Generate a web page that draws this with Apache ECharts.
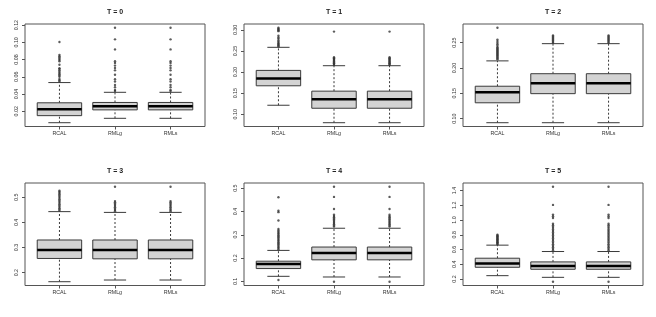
<!DOCTYPE html>
<html>
<head>
<meta charset="utf-8">
<script src="https://cdn.jsdelivr.net/npm/echarts@6/dist/echarts.min.js"></script>
<style>
html,body{margin:0;padding:0;background:#fff;}
#chart{width:656px;height:317px;}
</style>
</head>
<body>
<div id="chart"></div>
<script>
// ---- data ----
const categories = ['RCAL', 'RMLg', 'RMLs'];
const panelTitles = ['T = 0', 'T = 1', 'T = 2', 'T = 3', 'T = 4', 'T = 5'];

// box stats per method: [lower whisker, Q1, median, Q3, upper whisker]
const t0Box = [[0.0067, 0.0149, 0.0224, 0.0298, 0.0533], [0.0118, 0.0216, 0.0259, 0.0302, 0.0420], [0.0118, 0.0216, 0.0259, 0.0302, 0.0420]];
const t1Box = [[0.1214, 0.1675, 0.1850, 0.2040, 0.2587], [0.0800, 0.1143, 0.1357, 0.1548, 0.2151], [0.0800, 0.1143, 0.1357, 0.1548, 0.2151]];
const t2Box = [[0.0920, 0.1313, 0.1520, 0.1640, 0.2140], [0.0920, 0.1493, 0.1700, 0.1887, 0.2480], [0.0920, 0.1493, 0.1700, 0.1887, 0.2480]];
const t3Box = [[0.1638, 0.2564, 0.2900, 0.3300, 0.4430], [0.1705, 0.2550, 0.2900, 0.3300, 0.4400], [0.1705, 0.2550, 0.2900, 0.3300, 0.4400]];
const t4Box = [[0.1217, 0.1550, 0.1750, 0.1866, 0.2329], [0.1188, 0.1924, 0.2213, 0.2473, 0.3280], [0.1188, 0.1924, 0.2213, 0.2473, 0.3280]];
const t5Box = [[0.2455, 0.3590, 0.4090, 0.4820, 0.6590], [0.2227, 0.3320, 0.3770, 0.4320, 0.5727], [0.2227, 0.3320, 0.3770, 0.4320, 0.5727]];

// outliers per method
const t0Out = [
  [0.0545, 0.056, 0.0575, 0.060, 0.0615, 0.063, 0.0645, 0.066, 0.0675, 0.069, 0.070, 0.074, 0.078, 0.0795, 0.081, 0.0825, 0.084, 0.0855, 0.1004],
  [0.0435, 0.0447, 0.0478, 0.0506, 0.0545, 0.0573, 0.0624, 0.0675, 0.0702, 0.073, 0.0761, 0.078, 0.0918, 0.1035, 0.1169],
  [0.0435, 0.0447, 0.0478, 0.0506, 0.0545, 0.0573, 0.0624, 0.0675, 0.0702, 0.073, 0.0761, 0.078, 0.0918, 0.1035, 0.1169]
];
const t1Out = [
  [0.261, 0.263, 0.265, 0.267, 0.269, 0.272, 0.275, 0.279, 0.282, 0.286, 0.297, 0.299, 0.301, 0.303, 0.305],
  [0.217, 0.219, 0.221, 0.223, 0.225, 0.227, 0.229, 0.231, 0.233, 0.235, 0.296],
  [0.217, 0.219, 0.221, 0.223, 0.225, 0.227, 0.229, 0.231, 0.233, 0.235, 0.296]
];
const t2Out = [
  [0.217, 0.219, 0.221, 0.223, 0.225, 0.227, 0.229, 0.231, 0.233, 0.235, 0.237, 0.239, 0.241, 0.244, 0.247, 0.250, 0.253, 0.256, 0.2793],
  [0.250, 0.252, 0.254, 0.256, 0.258, 0.260, 0.262, 0.264],
  [0.250, 0.252, 0.254, 0.256, 0.258, 0.260, 0.262, 0.264]
];
const t3Out = [
  [0.447, 0.452, 0.457, 0.462, 0.467, 0.472, 0.477, 0.482, 0.487, 0.492, 0.497, 0.502, 0.507, 0.512, 0.517, 0.522, 0.526],
  [0.445, 0.450, 0.455, 0.460, 0.465, 0.470, 0.475, 0.480, 0.485, 0.542],
  [0.445, 0.450, 0.455, 0.460, 0.465, 0.470, 0.475, 0.480, 0.485, 0.542]
];
const t4Out = [
  [0.106, 0.238, 0.243, 0.248, 0.253, 0.258, 0.263, 0.268, 0.273, 0.278, 0.283, 0.288, 0.293, 0.298, 0.303, 0.308, 0.313, 0.318, 0.325, 0.361, 0.397, 0.403, 0.461],
  [0.0986, 0.335, 0.340, 0.345, 0.350, 0.355, 0.360, 0.365, 0.370, 0.375, 0.380, 0.386, 0.4105, 0.4625, 0.5058],
  [0.0986, 0.335, 0.340, 0.345, 0.350, 0.355, 0.360, 0.365, 0.370, 0.375, 0.380, 0.386, 0.4105, 0.4625, 0.5058]
];
const t5Out = [
  [0.67, 0.68, 0.69, 0.70, 0.71, 0.72, 0.73, 0.74, 0.75, 0.76, 0.77, 0.78, 0.79, 0.80],
  [0.1636, 0.59, 0.61, 0.63, 0.65, 0.67, 0.69, 0.71, 0.73, 0.75, 0.77, 0.79, 0.81, 0.83, 0.85, 0.87, 0.89, 0.91, 0.93, 0.95, 1.027, 1.05, 1.073, 1.2045, 1.45],
  [0.1636, 0.59, 0.61, 0.63, 0.65, 0.67, 0.69, 0.71, 0.73, 0.75, 0.77, 0.79, 0.81, 0.83, 0.85, 0.87, 0.89, 0.91, 0.93, 0.95, 1.027, 1.05, 1.073, 1.2045, 1.45]
];

// y tick labels per panel
const t0Ticks = ['0.02', '0.04', '0.06', '0.08', '0.10', '0.12'];
const t1Ticks = ['0.10', '0.15', '0.20', '0.25', '0.30'];
const t2Ticks = ['0.10', '0.15', '0.20', '0.25'];
const t3Ticks = ['0.2', '0.3', '0.4', '0.5'];
const t4Ticks = ['0.1', '0.2', '0.3', '0.4', '0.5'];
const t5Ticks = ['0.2', '0.4', '0.6', '0.8', '1.0', '1.2', '1.4'];

// ---- build chart ----
const boxes = [t0Box, t1Box, t2Box, t3Box, t4Box, t5Box];
const outs = [t0Out, t1Out, t2Out, t3Out, t4Out, t5Out];
const ticks = [t0Ticks, t1Ticks, t2Ticks, t3Ticks, t4Ticks, t5Ticks];

const FONT = 'Liberation Sans';
const colLeft = [25, 244, 463];
const rowTop = [24, 183];
const GW = 180, GH = 102.5;

function renderBox(params, api) {
  const x = api.value(0);
  const v = [1, 2, 3, 4, 5].map(i => api.value(i));
  const c = v.map(val => api.coord([x, val]));
  const cx = c[0][0];
  const hw = api.coord([x + 0.4, v[2]])[0] - cx;
  const sw = hw / 2;
  const lc = '#3a3a3a';
  return {
    type: 'group',
    children: [
      { type: 'line', shape: { x1: cx, y1: c[0][1], x2: cx, y2: c[1][1] }, style: { stroke: lc, lineWidth: 1, lineDash: [2, 2] } },
      { type: 'line', shape: { x1: cx, y1: c[3][1], x2: cx, y2: c[4][1] }, style: { stroke: lc, lineWidth: 1, lineDash: [2, 2] } },
      { type: 'line', shape: { x1: cx - sw, y1: c[0][1], x2: cx + sw, y2: c[0][1] }, style: { stroke: lc, lineWidth: 1 } },
      { type: 'line', shape: { x1: cx - sw, y1: c[4][1], x2: cx + sw, y2: c[4][1] }, style: { stroke: lc, lineWidth: 1 } },
      { type: 'rect', shape: { x: cx - hw, y: c[3][1], width: 2 * hw, height: c[1][1] - c[3][1] }, style: { fill: '#d3d3d3', stroke: lc, lineWidth: 1 } },
      { type: 'line', shape: { x1: cx - hw, y1: c[2][1], x2: cx + hw, y2: c[2][1] }, style: { stroke: '#000', lineWidth: 2.5 } }
    ]
  };
}

const grid = [], xAxis = [], yAxis = [], series = [], title = [];
for (let p = 0; p < 6; p++) {
  const col = p % 3, row = Math.floor(p / 3);
  grid.push({ left: colLeft[col], top: rowTop[row], width: GW, height: GH, show: true, borderColor: '#555', borderWidth: 1, backgroundColor: 'transparent' });
  title.push({
    text: panelTitles[p], left: colLeft[col] + GW / 2, top: rowTop[row] - 15.5, textAlign: 'center', padding: 0,
    textStyle: { fontFamily: FONT, fontSize: 7, fontWeight: 'bold', color: '#222' }
  });
  // data range extended by 4% (as R does)
  const all = [];
  boxes[p].forEach(b => all.push(...b));
  outs[p].forEach(o => all.push(...o));
  const dmin = Math.min(...all), dmax = Math.max(...all);
  const ext = (dmax - dmin) * 0.04;
  const tv = ticks[p].map(Number);
  const tl = ticks[p];
  xAxis.push({
    gridIndex: p, type: 'value', min: 0.38, max: 3.62,
    splitLine: { show: false }, axisLine: { show: false },
    axisTick: { show: true, length: 3, customValues: [1, 2, 3], lineStyle: { color: '#555' } },
    axisLabel: { show: true, customValues: [1, 2, 3], margin: 5, fontFamily: FONT, fontSize: 5.3, color: '#333',
      formatter: v => categories[Math.round(v) - 1] }
  });
  yAxis.push({
    gridIndex: p, type: 'value', min: dmin - ext, max: dmax + ext,
    splitLine: { show: false }, axisLine: { show: false },
    axisTick: { show: true, length: 3, customValues: tv, lineStyle: { color: '#555' } },
    axisLabel: { show: true, customValues: tv, rotate: 90, margin: 6, fontFamily: FONT, fontSize: 5.3, color: '#333',
      formatter: v => { const i = tv.findIndex(t => Math.abs(t - v) < 1e-9); return i >= 0 ? tl[i] : ''; } }
  });
  series.push({
    type: 'custom', xAxisIndex: p, yAxisIndex: p, renderItem: renderBox,
    encode: { x: 0, y: [1, 2, 3, 4, 5] },
    data: boxes[p].map((b, i) => [i + 1, ...b]), silent: true, z: 2
  });
  const pts = [];
  outs[p].forEach((o, i) => o.forEach(v => pts.push([i + 1, v])));
  series.push({
    type: 'scatter', xAxisIndex: p, yAxisIndex: p, data: pts, symbol: 'circle', symbolSize: 2.4,
    itemStyle: { color: '#333' }, silent: true, z: 3, animation: false
  });
}

const chart = echarts.init(document.getElementById('chart'), null, { renderer: 'canvas' });
chart.setOption({ animation: false, backgroundColor: '#fff', title, grid, xAxis, yAxis, series });
</script>
</body>
</html>
